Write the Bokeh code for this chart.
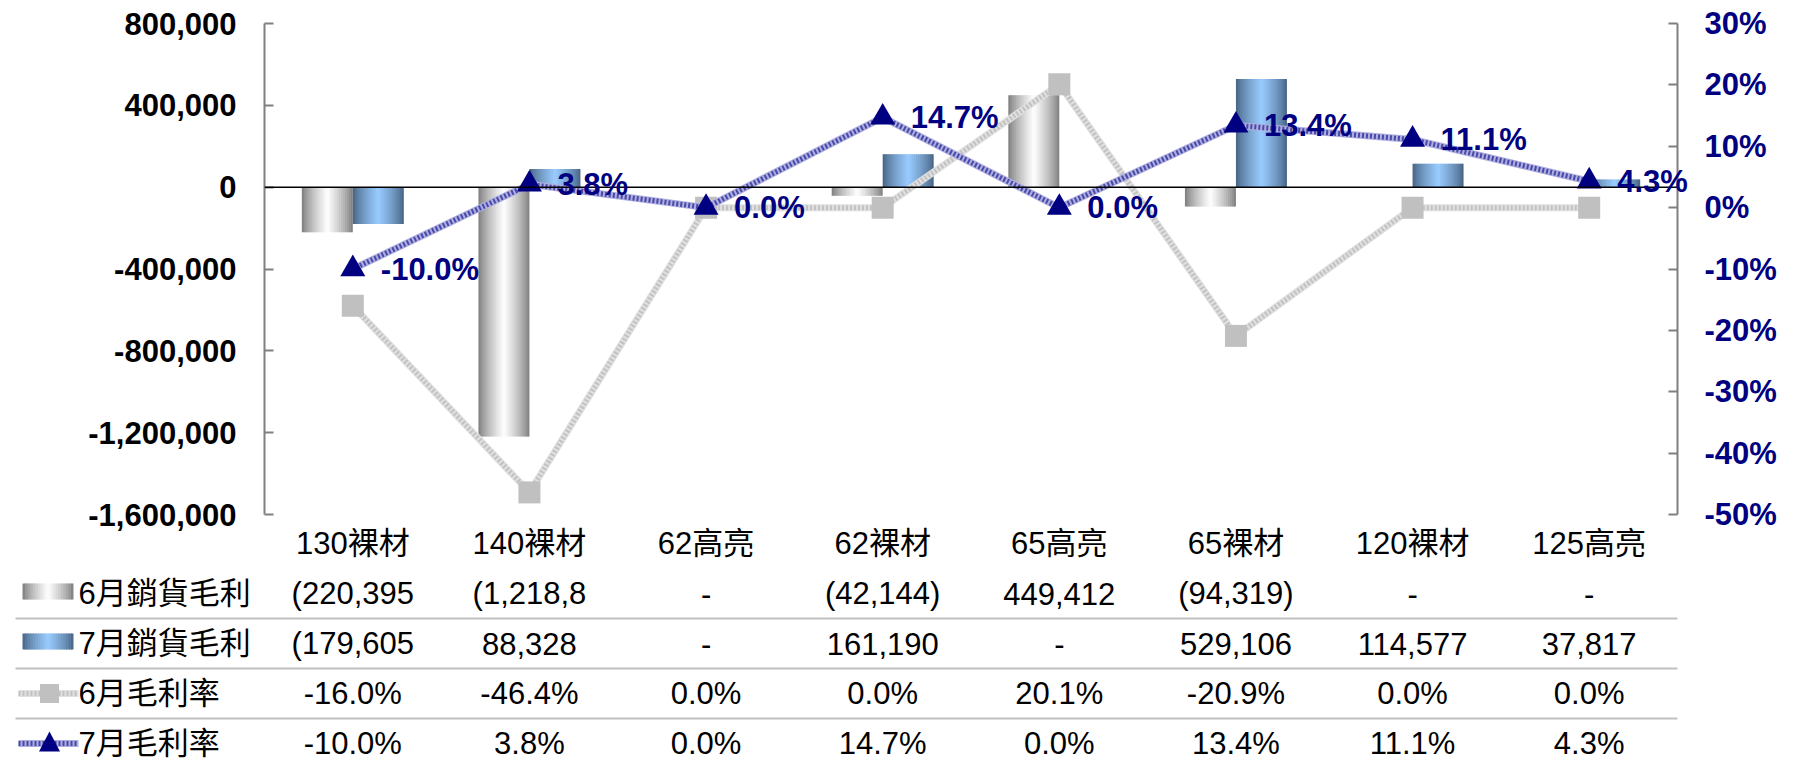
import numpy as np
from bokeh.plotting import figure
from bokeh.models import (Range1d, LinearAxis, FixedTicker, NumeralTickFormatter,
                          PrintfTickFormatter, Span)
from bokeh.layouts import column
from bokeh.embed import file_html
from bokeh.resources import INLINE
from bokeh.core.properties import value

# ---------------- data ----------------
categories = ["130裸材", "140裸材", "62高亮", "62裸材", "65高亮", "65裸材", "120裸材", "125高亮"]
june_profit = [-220395, -1218800, 0, -42144, 449412, -94319, 0, 0]
july_profit = [-179605, 88328, 0, 161190, 0, 529106, 114577, 37817]
june_margin = [-16.0, -46.4, 0.0, 0.0, 20.1, -20.9, 0.0, 0.0]
july_margin = [-10.0, 3.8, 0.0, 14.7, 0.0, 13.4, 11.1, 4.3]
june_profit_text = ["(220,395", "(1,218,8", "-", "(42,144)", "449,412", "(94,319)", "-", "-"]
july_profit_text = ["(179,605", "88,328", "-", "161,190", "-", "529,106", "114,577", "37,817"]
series_names = ["6月銷貨毛利", "7月銷貨毛利", "6月毛利率", "7月毛利率"]
left_ticks = [-1600000, -1200000, -800000, -400000, 0, 400000, 800000]
right_ticks = [-50, -40, -30, -20, -10, 0, 10, 20, 30]

# ---------------- layout / style ----------------
W = 1793
FRAME_L, FRAME_R = 264, 1677
BORDER_R = W - FRAME_R
CW = (FRAME_R - FRAME_L) / len(categories)
MAIN_H, TOP_B, BOT_B = 563, 23, 44
TABLE_H = 199
ROW_PX = 50
BAR_W = 51 / CW
FONT = "Liberation Sans"
CJK_FONT = "Liberation Sans, Noto Sans CJK TC"
FS = "31px"
NAVY = "#000080"
GRAY_EDGE, GRAY_MID = (0x78, 0x78, 0x78), (0xFF, 0xFF, 0xFF)
BLUE_EDGE, BLUE_MID = (0x44, 0x5F, 0x7E), (0x99, 0xCC, 0xFF)

idx = list(range(len(categories)))


def mix(a, b, f):
    return "#%02x%02x%02x" % tuple(int(round(a[j] + (b[j] - a[j]) * f)) for j in range(3))


def gradient_strips(x0, width, y0, y1, edge, mid, n=26):
    L, R, B, T, C = [], [], [], [], []
    sw = width / n
    for k in range(n):
        u = (k + 0.5) / n
        f = (1 - abs(2 * u - 1)) ** 0.75
        L.append(x0 + k * sw)
        R.append(min(x0 + width, x0 + (k + 1) * sw + sw * 0.5))
        B.append(y0)
        T.append(y1)
        C.append(mix(edge, mid, f))
    return L, R, B, T, C


def bar_strips(values, side, edge, mid):
    L, R, B, T, C = [], [], [], [], []
    for i, v in zip(idx, values):
        if v == 0:
            continue
        x0 = i - BAR_W if side < 0 else i
        l, r, b, t, c = gradient_strips(x0, BAR_W, 0, v, edge, mid)
        L += l; R += r; B += b; T += t; C += c
    return dict(left=L, right=R, bottom=B, top=T, color=C)


# ---------------- main chart ----------------
xr = Range1d(-0.5, len(categories) - 0.5)
p = figure(width=W, height=MAIN_H, x_range=xr,
           y_range=Range1d(left_ticks[0], left_ticks[-1]),
           output_backend="svg", toolbar_location=None,
           min_border_left=FRAME_L, min_border_right=BORDER_R,
           min_border_top=TOP_B, min_border_bottom=BOT_B)
p.outline_line_color = None
p.xgrid.visible = False
p.ygrid.visible = False

p.extra_y_ranges = {"pct": Range1d(right_ticks[0], right_ticks[-1])}

# bars
for vals, side, edge, mid in [(june_profit, -1, GRAY_EDGE, GRAY_MID),
                              (july_profit, 1, BLUE_EDGE, BLUE_MID)]:
    d = bar_strips(vals, side, edge, mid)
    p.quad(left=d["left"], right=d["right"], bottom=d["bottom"], top=d["top"],
           fill_color=d["color"], line_color=None)

p.add_layout(Span(location=0, dimension="width", line_color="black", line_width=1.5))

# June margin line (light gray textured)
p.line(idx, june_margin, y_range_name="pct", line_color="#e0e0e0", line_width=7)
p.line(idx, june_margin, y_range_name="pct", line_color="#c2c2c2", line_width=5, line_dash="2 2")
p.scatter(idx, june_margin, y_range_name="pct", marker="square", size=22,
          fill_color="#c0c0c0", line_color=None)

# July margin line (navy textured)
p.line(idx, july_margin, y_range_name="pct", line_color="#aeaee0", line_width=7)
p.line(idx, july_margin, y_range_name="pct", line_color="#30309a", line_width=5, line_dash="2 2",
       line_alpha=0.8)
p.scatter(idx, july_margin, y_range_name="pct", marker="triangle", size=25,
          fill_color=NAVY, line_color=None)

# data labels
p.text(idx, july_margin, text=["%.1f%%" % v for v in july_margin], y_range_name="pct",
       x_offset=28, text_align="left", text_baseline="middle",
       text_font=value(FONT), text_font_style="bold", text_font_size=value(FS),
       text_color=NAVY, level="overlay")

# x axis: category labels
xa = p.xaxis[0]
xa.ticker = FixedTicker(ticks=idx)
xa.major_label_overrides = {i: c for i, c in zip(idx, categories)}
xa.axis_line_color = None
xa.major_tick_line_color = None
xa.minor_tick_line_color = None
xa.major_label_standoff = 5
xa.major_label_text_font = CJK_FONT
xa.major_label_text_font_size = FS
xa.major_label_text_color = "black"

# left y axis
ya = p.yaxis[0]
ya.ticker = FixedTicker(ticks=left_ticks)
ya.formatter = NumeralTickFormatter(format="0,0")
ya.axis_line_color = "#808080"
ya.axis_line_width = 2
ya.major_tick_line_color = "#808080"
ya.major_tick_line_width = 2
ya.major_tick_in = 9
ya.major_tick_out = 0
ya.minor_tick_line_color = None
ya.major_label_standoff = 28
ya.major_label_text_font = FONT
ya.major_label_text_font_style = "bold"
ya.major_label_text_font_size = FS
ya.major_label_text_color = "black"

# right y axis
ra = LinearAxis(y_range_name="pct", ticker=FixedTicker(ticks=right_ticks),
                formatter=PrintfTickFormatter(format="%d%%"))
ra.axis_line_color = "#808080"
ra.axis_line_width = 2
ra.major_tick_line_color = "#808080"
ra.major_tick_line_width = 2
ra.major_tick_in = 9
ra.major_tick_out = 0
ra.minor_tick_line_color = None
ra.major_label_standoff = 27
ra.major_label_text_font = FONT
ra.major_label_text_font_style = "bold"
ra.major_label_text_font_size = FS
ra.major_label_text_color = NAVY
p.add_layout(ra, "right")


# ---------------- data table ----------------
def px2x(ref_px):
    return -0.5 + (ref_px - FRAME_L) / CW


def dx(px):
    return px / CW


def dy(px):
    return px / ROW_PX


t = figure(width=W, height=TABLE_H, x_range=xr,
           y_range=Range1d(3.38, -0.6),
           output_backend="svg", toolbar_location=None,
           min_border_left=FRAME_L, min_border_right=BORDER_R,
           min_border_top=0, min_border_bottom=0,
           x_axis_location=None, y_axis_location=None)
t.outline_line_color = None
t.xgrid.visible = False
t.ygrid.visible = False

rows = [june_profit_text, july_profit_text,
        ["%.1f%%" % v for v in june_margin], ["%.1f%%" % v for v in july_margin]]
tx, ty, tt = [], [], []
for r, row in enumerate(rows):
    for i, s in zip(idx, row):
        tx.append(i); ty.append(r); tt.append(s)
t.text(tx, ty, text=tt, text_align="center", text_baseline="middle",
       text_font=value(FONT), text_font_size=value(FS), text_color="black", level="overlay")

# separators
t.segment(x0=[px2x(15)] * 3, x1=[len(categories) - 0.5] * 3, y0=[0.5, 1.5, 2.5], y1=[0.5, 1.5, 2.5],
          line_color="#c0c0c0", line_width=2, level="overlay")

# legend names
t.text([px2x(78)] * 4, list(range(4)), text=series_names, text_align="left",
       text_baseline="middle", text_font=value(CJK_FONT), text_font_size=value(FS),
       text_color="black", level="overlay")

# legend keys: gradient boxes
for r, (edge, mid) in enumerate([(GRAY_EDGE, GRAY_MID), (BLUE_EDGE, BLUE_MID)]):
    x0, x1 = px2x(22), px2x(73)
    l, rr, b, tp, c = gradient_strips(x0, x1 - x0, r - dy(10), r + dy(6), edge, mid, n=20)
    t.quad(left=l, right=rr, bottom=b, top=tp, fill_color=c, line_color=None, level="overlay")

# legend keys: lines with markers
kx = [px2x(18), px2x(78)]
kc = px2x(49)
t.line(kx, [2, 2], line_color="#e0e0e0", line_width=7, level="overlay")
t.line(kx, [2, 2], line_color="#c2c2c2", line_width=5, line_dash="2 2", level="overlay")
t.quad(left=[kc - dx(9.5)], right=[kc + dx(9.5)], top=[2 - dy(9.5)], bottom=[2 + dy(9.5)],
       fill_color="#c0c0c0", line_color=None, level="overlay")
t.line(kx, [3, 3], line_color="#aeaee0", line_width=7, level="overlay")
t.line(kx, [3, 3], line_color="#30309a", line_width=5, line_dash="2 2", line_alpha=0.8,
       level="overlay")
t.patch([kc - dx(10.5), kc + dx(10.5), kc], [3 + dy(8), 3 + dy(8), 3 - dy(12)],
        fill_color=NAVY, line_color=None, level="overlay")

layout = column(p, t)
open("out.html", "w").write(file_html(layout, INLINE))
